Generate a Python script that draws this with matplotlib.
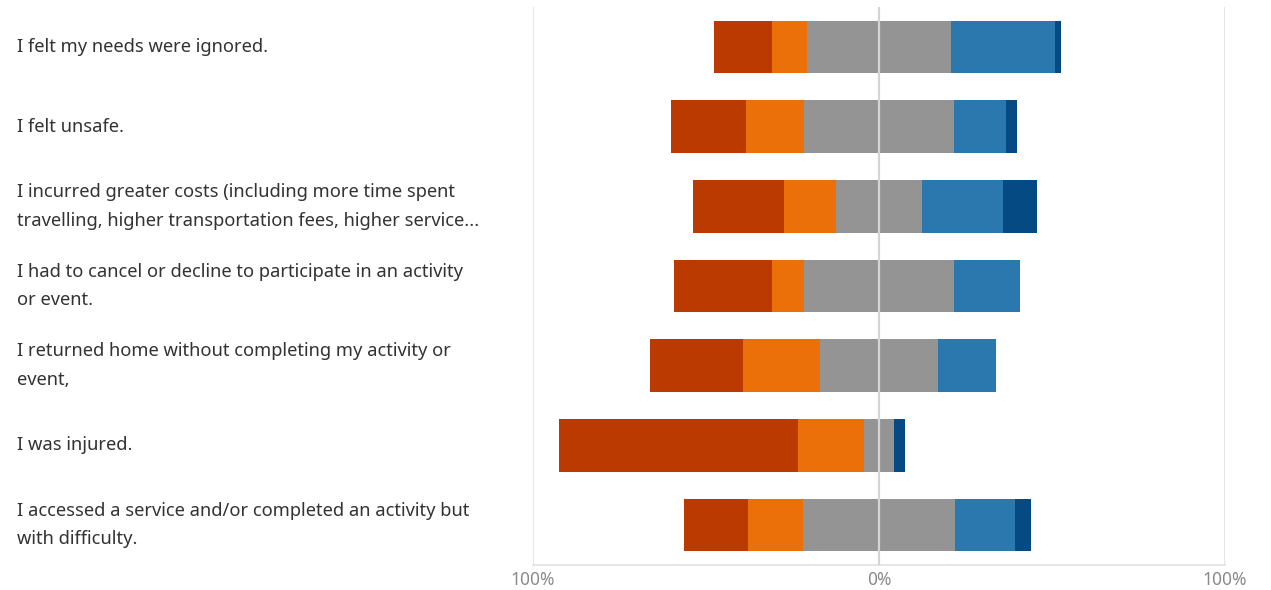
import matplotlib
matplotlib.use("Agg")
import matplotlib.pyplot as plt
import matplotlib.transforms as mtransforms
import numpy as np

categories = [
    "I felt my needs were ignored.",
    "I felt unsafe.",
    "I incurred greater costs (including more time spent\ntravelling, higher transportation fees, higher service...",
    "I had to cancel or decline to participate in an activity\nor event.",
    "I returned home without completing my activity or\nevent,",
    "I was injured.",
    "I accessed a service and/or completed an activity but\nwith difficulty.",
]
strongly_disagree = [16.5, 21.7, 26.3, 28.3, 26.9, 69.1, 18.5]
disagree = [10.1, 16.5, 15.0, 9.5, 22.3, 19.1, 15.9]
neutral = [41.9, 43.6, 25.1, 43.1, 34.1, 8.7, 43.9]
agree = [30.0, 15.0, 23.4, 19.1, 16.8, 0.0, 17.3]
strongly_agree = [1.7, 3.2, 9.8, 0.0, 0.0, 3.2, 4.6]
tick_values = [-100, 0, 100]
tick_labels = ["100%", "0%", "100%"]

colors = ["#BA3A02", "#EB700A", "#949494", "#2B78AE", "#064A83"]

plt.rcParams['font.family'] = ['Noto Sans', 'DejaVu Sans']
fig = plt.figure(figsize=(12.71, 5.90), dpi=100)
ax = fig.add_axes([533/1271, 25/590, (1225-533)/1271, (583-25)/590])

n = len(categories)
y = np.arange(n)
sd = np.array(strongly_disagree)
d = np.array(disagree)
ne = np.array(neutral)
a = np.array(agree)
sa = np.array(strongly_agree)
start = -(sd + d + ne / 2)
series = [sd, d, ne, a, sa]
left = start.copy()
for vals, c in zip(series, colors):
    ax.barh(y, vals, left=left, height=0.66, color=c, edgecolor='none', zorder=2)
    left = left + vals

ax.set_xlim(-100, 100)
ax.set_ylim(n - 0.5, -0.5)
for xv in tick_values:
    ax.axvline(xv, color='#e3e3e3', lw=1.3, zorder=1)
ax.axvline(0, color='#d4d4d4', lw=1.6, zorder=3)
for s in ['top', 'left', 'right']:
    ax.spines[s].set_visible(False)
ax.spines['bottom'].set_color('#e3e3e3')
ax.spines['bottom'].set_linewidth(1.3)
ax.set_yticks([])
ax.set_xticks(tick_values)
ax.set_xticklabels(tick_labels)
ax.tick_params(axis='x', length=0, pad=4, labelsize=12.5, labelcolor='#8a8a8a')

trans = mtransforms.blended_transform_factory(fig.transFigure, ax.transData)
for i, lab in enumerate(categories):
    ax.text(17/1271, i, lab, transform=trans, ha='left', va='center',
            fontsize=13.2, color='#333333', linespacing=1.75, clip_on=False)

fig.savefig("out.png", dpi=100)
